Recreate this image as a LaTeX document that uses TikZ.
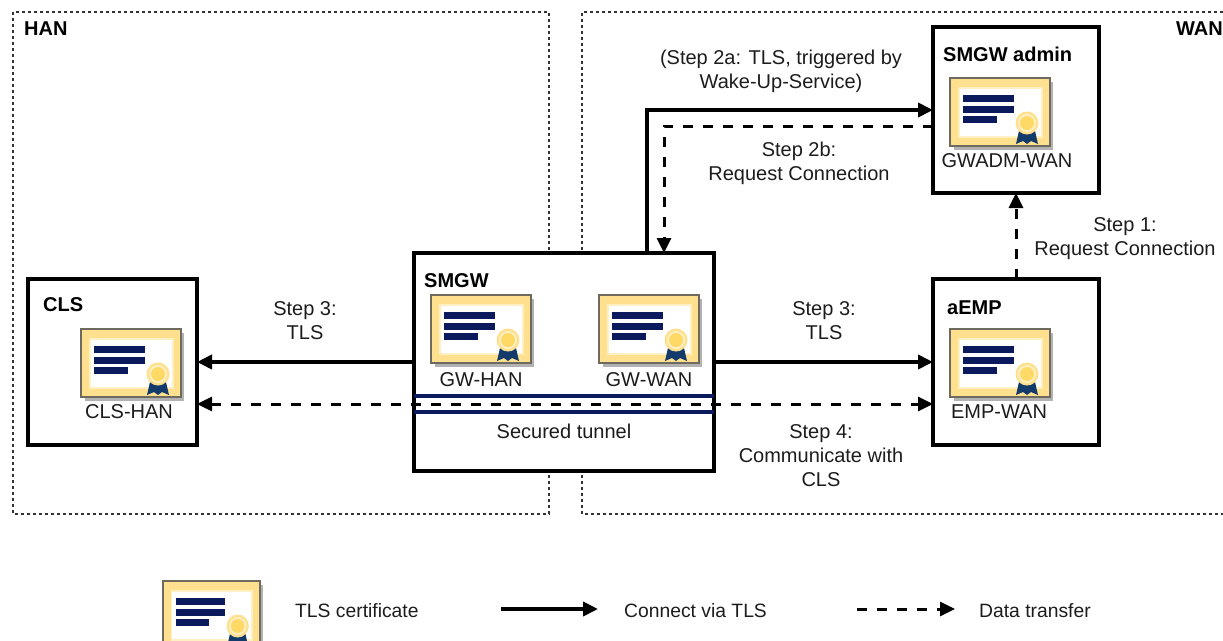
\documentclass[tikz,border=0pt]{standalone}
\usepackage{fontspec}
\setmainfont{Liberation Sans}
\usetikzlibrary{arrows.meta,calc}
\definecolor{navy}{HTML}{0B1A5C}
\definecolor{certgold}{HTML}{FFE08F}
\definecolor{certedge}{HTML}{6E6A5E}
\definecolor{sealgold}{HTML}{FFD966}
\definecolor{sealring}{HTML}{FFF0C4}
\definecolor{ribbon}{HTML}{123A6B}
\definecolor{inktext}{HTML}{1C1C1C}
\tikzset{
  x=1pt,y=-1pt,
  entity/.style={draw=black,line width=4pt,fill=white,inner sep=0pt,outer sep=0pt},
  region/.style={draw=black!80,line width=1.4pt,dash pattern=on 3pt off 3pt},
  title/.style={font=\fontsize{20}{23}\selectfont\bfseries,text=black,inner sep=0pt,anchor=west},
  label/.style={font=\fontsize{20}{24}\selectfont,text=inktext,inner sep=0pt,align=center},
  legendlabel/.style={font=\fontsize{19.3}{24}\selectfont,text=inktext,inner sep=0pt,anchor=west},
  tls/.style={draw=black,line width=4pt,-{Triangle[length=15pt,width=14pt]}},
  data/.style={draw=black,line width=3pt,dash pattern=on 10pt off 10pt,-{Triangle[length=15pt,width=14pt]}},
  databoth/.style={data,{Triangle[length=15pt,width=14pt]}-{Triangle[length=15pt,width=14pt]}},
  tunnel/.style={draw=navy,line width=3.5pt},
  cert/.pic={
    \fill[black!30] (4,4) rectangle (103,72);
    \draw[certedge,fill=certgold,line width=1.2pt] (0,0) rectangle (100,68);
    \draw[sealring,fill=white,line width=1.5pt] (9,10) rectangle (92,59);
    \fill[navy] (13,17) rectangle (64,24);
    \fill[navy] (13,28) rectangle (64,35);
    \fill[navy] (13,38) rectangle (47,45);
    \fill[ribbon] (69,53) -- (85,53) -- (88,66) -- (81,63) -- (77,66) -- (73,63) -- (66,66) -- cycle;
    \fill[certgold] (77,45) circle (11.5);
    \fill[sealring] (77,45) circle (9);
    \fill[sealgold] (77,45) circle (7);
  }
}
\begin{document}
\begin{tikzpicture}
\useasboundingbox (0,0) rectangle (1223,640);
% regions
\draw[region] (13,12) rectangle (549,514);
\draw[region] (1223,12) -- (582,12) -- (582,514) -- (1223,514);
\node[title] (hanlabel) at (24,29) {HAN};
\node[title,anchor=east] (wanlabel) at (1223,29) {WAN};
% entities
\node[entity,minimum width=169pt,minimum height=166pt] (cls) at (112.5,362) {};
\node[entity,minimum width=300pt,minimum height=218pt] (smgw) at (564,362) {};
\node[entity,minimum width=166pt,minimum height=166pt] (admin) at (1016,110) {};
\node[entity,minimum width=166pt,minimum height=166pt] (aemp) at (1016,362) {};
% tunnel
\coordinate (tunAl) at (smgw.west |- 0,396);
\coordinate (tunAr) at (smgw.east |- 0,396);
\coordinate (tunBl) at (smgw.west |- 0,412);
\coordinate (tunBr) at (smgw.east |- 0,412);
\draw[tunnel] (tunAl) -- (tunAr);
\draw[tunnel] (tunBl) -- (tunBr);
% certificates
\pic at (81,329) {cert};
\pic at (431,295) {cert};
\pic at (599,295) {cert};
\pic at (950,78) {cert};
\pic at (950,329) {cert};
\pic[xscale=.97] at (163,581) {cert};
% titles and labels in boxes
\node[title] (clst) at (43,305) {CLS};
\node[title] (smgwt) at (424,281) {SMGW};
\node[title] (admint) at (943,54) {SMGW admin};
\node[title] (aempt) at (947,308) {aEMP};
\node[label] (clsc) at (129,412) {CLS-HAN};
\node[label] (gwh) at (481,380) {GW-HAN};
\node[label] (gww) at (649,380) {GW-WAN};
\node[label] (admc) at (1007,161) {GWADM-WAN};
\node[label] (empc) at (999,412) {EMP-WAN};
\node[label] (tuntext) at (564,431) {Secured tunnel};
% connectors
\draw[tls] (smgw.west |- cls.east) -- (cls.east);
\draw[tls] (smgw.east |- aemp.west) -- (aemp.west);
\coordinate (d1) at (cls.east |- 0,404);
\coordinate (d2) at (aemp.west |- 0,404);
\draw[databoth] (d1) -- (d2);
\coordinate (a2s) at (647,253);
\coordinate (a2e) at (933,110);
\draw[tls] (a2s) |- (a2e);
\coordinate (b2s) at (933,126);
\coordinate (b2e) at (664,253);
\draw[data] (b2s) -| (b2e);
\draw[data] (aemp.north) -- (admin.south);
% connector labels
\node[label] (l2a) at (781,71) {(Step 2a: TLS, triggered by\\Wake-Up-Service)};
\node[label] (l2b) at (799,163) {Step 2b:\\Request Connection};
\node[label] (l1) at (1125,239) {Step 1:\\Request Connection};
\node[label] (l3a) at (305,321) {Step 3:\\TLS};
\node[label] (l3b) at (824,321) {Step 3:\\TLS};
\node[label] (l4) at (821,456) {Step 4:\\Communicate with\\CLS};
% legend
\node[legendlabel] (lg1) at (295,611) {TLS certificate};
\coordinate (lga) at (501,609);
\coordinate (lgb) at (598,609);
\draw[tls] (lga) -- (lgb);
\node[legendlabel] (lg2) at (624,611) {Connect via TLS};
\coordinate (lgc) at (857,609);
\coordinate (lgd) at (955,609);
\draw[data] (lgc) -- (lgd);
\node[legendlabel] (lg3) at (979,611) {Data transfer};
\end{tikzpicture}
\end{document}
